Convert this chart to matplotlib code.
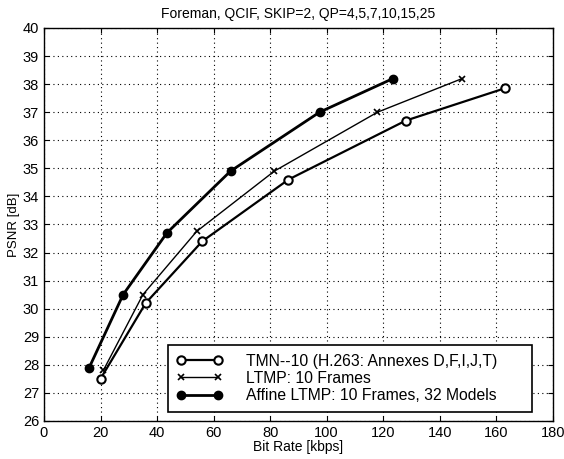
import matplotlib.pyplot as plt
from matplotlib.patches import Rectangle
import numpy as np

plt.rcParams['font.family'] = ['Liberation Sans', 'DejaVu Sans']

tmn_rate = [20, 36, 56, 86.5, 128, 163]
tmn_psnr = [27.5, 30.2, 32.4, 34.6, 36.7, 37.85]

ltmp_rate = [21, 35, 54, 81.5, 118, 148]
ltmp_psnr = [27.8, 30.5, 32.75, 34.9, 37.0, 38.2]

affine_rate = [16, 28, 43.5, 66, 97.5, 123.5]
affine_psnr = [27.9, 30.5, 32.7, 34.9, 37.0, 38.2]

labels = ["TMN--10 (H.263: Annexes D,F,I,J,T)",
          "LTMP: 10 Frames",
          "Affine LTMP: 10 Frames, 32 Models"]

fig = plt.figure(figsize=(5.64, 4.59), dpi=100)
ax = fig.add_axes([0.078, 0.083, 0.902, 0.856])

ax.plot(tmn_rate, tmn_psnr, color='black', lw=1.6, marker='o', ms=6,
        mfc='white', mec='black', mew=1.5, label=labels[0])
ax.plot(ltmp_rate, ltmp_psnr, color='black', lw=1.0, marker='x', ms=4,
        mew=1.2, label=labels[1])
ax.plot(affine_rate, affine_psnr, color='black', lw=2.0, marker='o', ms=6,
        mfc='black', label=labels[2])

ax.set_xlim(0, 180)
ax.set_ylim(26, 40)
ax.set_xticks(np.arange(0, 181, 20))
ax.set_yticks(np.arange(26, 41, 1))
ax.grid(True, linestyle=(0, (1, 3)), color='black', lw=0.8)
ax.tick_params(direction='in', top=True, right=True, labelsize=10.5)
for s in ax.spines.values():
    s.set_linewidth(1.0)

ax.set_xlabel("Bit Rate [kbps]", fontsize=10, labelpad=0)
ax.set_ylabel("PSNR [dB]", fontsize=9.5, labelpad=2)
ax.set_title("Foreman, QCIF, SKIP=2, QP=4,5,7,10,15,25", fontsize=10, pad=7)

# legend box drawn separately (MATLAB style leaves a wide right margin)
box = Rectangle((0.244, 0.023), 0.715, 0.170, transform=ax.transAxes,
                facecolor='white', edgecolor='black', lw=1.2, zorder=4.9)
ax.add_patch(box)
leg = ax.legend(loc='lower left', bbox_to_anchor=(0.244, 0.023),
                numpoints=2, fontsize=11.3, frameon=False,
                handlelength=2.9, handletextpad=1.5, borderpad=0.55,
                borderaxespad=0, labelspacing=0.15)

fig.savefig("out.png", dpi=100)
